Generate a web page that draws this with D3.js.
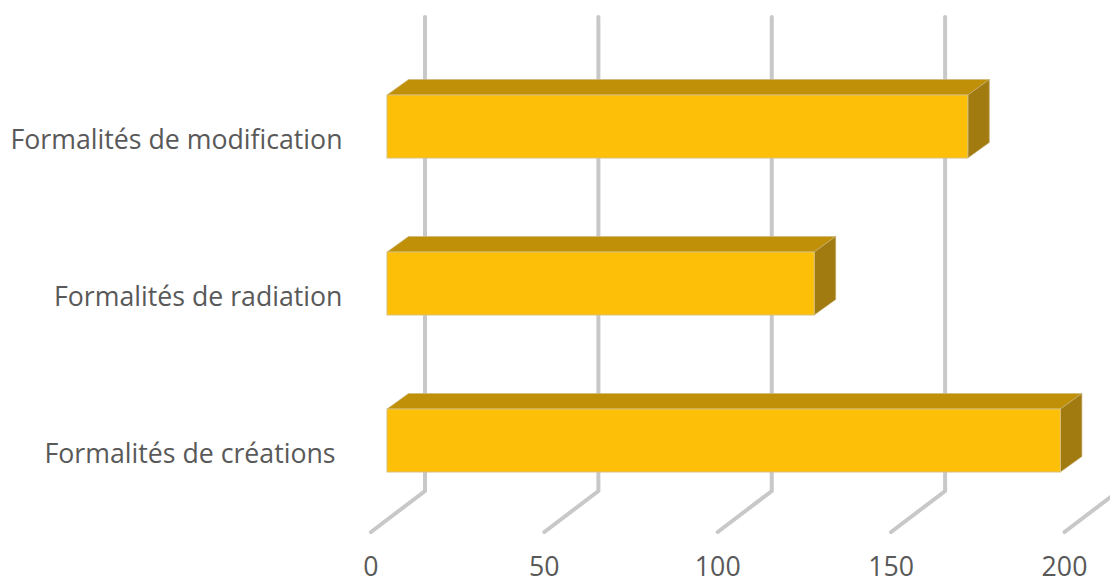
<!DOCTYPE html>
<html><head><meta charset="utf-8">
<script src="https://cdn.jsdelivr.net/npm/d3@7"></script>
<style>html,body{margin:0;padding:0;background:#fff;overflow:hidden}svg{display:block}</style>
</head><body><svg id="c" width="1110" height="583"></svg>
<script>
const categories = ["Formalités de modification", "Formalités de radiation", "Formalités de créations\u00a0"];
const values = [167.5, 123.2, 194.2];
const tickValues = [0, 50, 100, 150, 200];

const svg = d3.select("#c");
const floorX = d3.scaleLinear().domain([0, 200]).range([371, 1064.5]);
const barX = d3.scaleLinear().domain([0, 200]).range([387, 1080.5]);
const y = d3.scaleBand().domain(categories).range([95, 472]).paddingInner(0.5987).paddingOuter(0);
const depthX = 21.5, depthY = 15.5;
const wallDX = 54, wallDY = 41, floorFrontY = 532, wallTop = 17;

// walls and floor gridlines
svg.append("g").selectAll("path").data(tickValues).join("path")
  .attr("d", d => {
    const x0 = floorX(d), b = floorFrontY - wallDY;
    return `M${x0},${floorFrontY}L${x0 + wallDX},${b}L${x0 + wallDX},${wallTop}`;
  })
  .attr("fill", "none").attr("stroke", "#c8c8c8").attr("stroke-width", 4)
  .attr("stroke-linecap", "round").attr("stroke-linejoin", "miter");

// bars
const bars = svg.append("g").selectAll("g").data(categories.map((c, i) => ({c, v: values[i]}))).join("g");
const pts = a => a.map(p => p.join(",")).join(" ");
const L = barX(0), R = d => barX(d.v), T = d => y(d.c), B = d => y(d.c) + y.bandwidth();
bars.append("polygon")
  .attr("points", d => pts([[L, T(d)], [L + depthX, T(d) - depthY], [R(d) + depthX, T(d) - depthY], [R(d), T(d)]]))
  .attr("fill", "#bf9008").attr("stroke", "#cdb77a").attr("stroke-width", 0.7);
bars.append("polygon")
  .attr("points", d => pts([[R(d), T(d)], [R(d) + depthX, T(d) - depthY], [R(d) + depthX, B(d) - depthY], [R(d), B(d)]]))
  .attr("fill", "#a27b10").attr("stroke", "#c4ad70").attr("stroke-width", 0.7);
bars.append("rect")
  .attr("x", L).attr("y", T).attr("width", d => R(d) - L).attr("height", y.bandwidth())
  .attr("fill", "#fdbf08").attr("stroke", "#d8c07a").attr("stroke-width", 1);

// category labels
svg.append("g").selectAll("text").data(categories).join("text")
  .attr("x", 342.5).attr("y", d => y(d) + 54)
  .attr("text-anchor", "end")
  .attr("font-family", "'Open Sans', sans-serif").attr("font-size", 26.7).attr("fill", "#595959")
  .text(d => d);

// value labels
svg.append("g").selectAll("text").data(tickValues).join("text")
  .attr("x", d => floorX(d)).attr("y", 575.5)
  .attr("text-anchor", "middle")
  .attr("font-family", "'Open Sans', sans-serif").attr("font-size", 26.7).attr("fill", "#595959")
  .text(d => d);
</script></body></html>
